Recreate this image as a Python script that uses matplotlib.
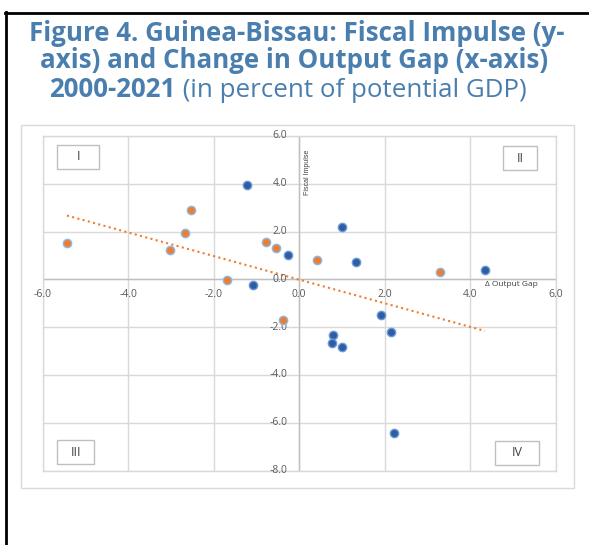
import numpy as np
import matplotlib
matplotlib.use("Agg")
import matplotlib.pyplot as plt
from matplotlib.patches import Rectangle
from matplotlib.lines import Line2D

# ---- data (change in output gap, fiscal impulse), % of potential GDP ----
orange_x = [-5.43, -3.02, -2.67, -2.54, -1.68, -0.77, -0.55, -0.39, 0.42, 3.29]
orange_y = [1.52, 1.22, 1.93, 2.89, -0.01, 1.58, 1.31, -1.72, 0.80, 0.32]
blue_x = [-1.21, -1.07, -0.26, 1.01, 1.33, 4.34, 1.91, 2.15, 0.78, 0.76, 1.01, 2.22]
blue_y = [3.94, -0.25, 1.03, 2.19, 0.71, 0.40, -1.51, -2.21, -2.32, -2.65, -2.85, -6.43]

x_ticks = [-6.0, -4.0, -2.0, 0.0, 2.0, 4.0, 6.0]
y_ticks = [-8.0, -6.0, -4.0, -2.0, 0.0, 2.0, 4.0, 6.0]
quadrant_labels = ["I", "II", "III", "IV"]

title_line1 = "Figure 4. Guinea-Bissau: Fiscal Impulse (y-"
title_line2 = "axis) and Change in Output Gap (x-axis)"
title_line3_bold = "2000-2021"
title_line3_normal = " (in percent of potential GDP)"
y_label = "Fiscal Impulse"
x_label = "\u0394 Output Gap"

W, H = 589, 545
fig = plt.figure(figsize=(W / 100, H / 100), dpi=100)
fig.patch.set_facecolor("white")

def fx(px):
    return px / W

def fy(py):
    return 1 - py / H

TITLE_C = "#4A7EAE"
GRID_C = "#D9D9D9"
TICK_C = "#595959"

# outer black frame (top + left)
fig.add_artist(Line2D([fx(4.5), fx(589)], [fy(13), fy(13)], color="black", lw=2.0))
fig.add_artist(Line2D([fx(5.5), fx(5.5)], [fy(12), fy(545)], color="black", lw=2.0))

# chart area border
fig.add_artist(Rectangle((fx(21), fy(488)), fx(574) - fx(21), fy(125) - fy(488),
                         fill=False, edgecolor="#D9D9D9", lw=1.0))

# title (font size fitted so line 1 spans ~550 px like the reference)
fam = ["Open Sans", "DejaVu Sans"]
fig.canvas.draw()
r = fig.canvas.get_renderer()
probe = fig.text(0, 0, title_line1, fontsize=16, weight="bold", family=fam)
tsize = 16 * 550 / probe.get_window_extent(r).width
probe.remove()
tsize = min(tsize, 18.6)
tfont = dict(family=fam, color=TITLE_C, fontsize=tsize)
fig.text(fx(297), fy(41), title_line1, ha="center", va="baseline", weight="bold", **tfont)
fig.text(fx(294.5), fy(68), title_line2, ha="center", va="baseline", weight="bold", **tfont)
tb = fig.text(0, fy(97), title_line3_bold, ha="left", va="baseline", weight="bold", **tfont)
tn = fig.text(0, fy(97), title_line3_normal, ha="left", va="baseline", weight="normal", **tfont)
wb = tb.get_window_extent(r).width
wn = tn.get_window_extent(r).width
start = 288 - (wb + wn) / 2
tb.set_x(fx(start))
tn.set_x(fx(start + wb))

# axes
ax = fig.add_axes([fx(42.5), fy(470.5), fx(556) - fx(42.5), fy(136) - fy(470.5)])
ax.set_xlim(-6, 6)
ax.set_ylim(-8, 6)
ax.set_xticks(x_ticks)
ax.set_yticks(y_ticks)
ax.grid(True, color=GRID_C, lw=1.0)
ax.tick_params(length=0, labelbottom=False, labelleft=False)
for s in ax.spines.values():
    s.set_color(GRID_C)
    s.set_linewidth(1.0)
ax.set_axisbelow(True)
ax.axhline(0, color="#BFBFBF", lw=1.0, zorder=1)
ax.axvline(0, color="#BFBFBF", lw=1.0, zorder=1)

tick_font = dict(family=["Open Sans", "DejaVu Sans"], color=TICK_C, fontsize=7.5)
for xv in x_ticks:
    ax.annotate(f"{xv:.1f}", xy=(xv, 0), xytext=(0, -15.5), textcoords="offset pixels",
                ha="center", va="center", **tick_font)
for yv in y_ticks:
    ax.annotate(f"{yv:.1f}", xy=(0, yv), xytext=(-12, 0), textcoords="offset pixels",
                ha="right", va="center", **tick_font)

# axis titles
ax.annotate(y_label, xy=(0, 6), xytext=(8, -36), textcoords="offset pixels",
            rotation=90, ha="center", va="center", fontsize=5,
            family=["Liberation Sans Narrow", "Liberation Sans", "DejaVu Sans"], color="#404040")
ax.annotate(x_label, xy=(6, 0), xytext=(-45, -5), textcoords="offset pixels",
            ha="center", va="center", fontsize=6,
            family=["Open Sans", "DejaVu Sans"], color="#404040")

# scatter
ax.scatter(blue_x, blue_y, s=36, facecolor="#2E5DA3", edgecolor="#6A9AD6", lw=1.0, zorder=3)
ax.scatter(orange_x, orange_y, s=36, facecolor="#ED7D31", edgecolor="#8FB8E4", lw=1.0, zorder=3)

# linear trendline across all points
all_x = np.array(orange_x + blue_x)
all_y = np.array(orange_y + blue_y)
slope, intercept = np.polyfit(all_x, all_y, 1)
xs = np.array([all_x.min(), all_x.max()])
ax.plot(xs, slope * xs + intercept, color="#ED7D31", lw=1.5, linestyle=(0, (1, 1.6)), zorder=2)

# quadrant boxes
boxes = [(57, 145, 99, 169), (503, 146, 537, 170), (57, 440, 94, 464), (495, 441, 539, 465)]
for lab, (x0, y0, x1, y1) in zip(quadrant_labels, boxes):
    fig.add_artist(Rectangle((fx(x0), fy(y1)), fx(x1) - fx(x0), fy(y0) - fy(y1),
                             facecolor="white", edgecolor="#BFBFBF", lw=1.0, zorder=5))
    fig.text(fx((x0 + x1) / 2), fy((y0 + y1) / 2), lab, ha="center", va="center",
             fontsize=9, color="#404040", family=["Open Sans", "DejaVu Sans"], zorder=6)

fig.savefig("out.png", dpi=100)
